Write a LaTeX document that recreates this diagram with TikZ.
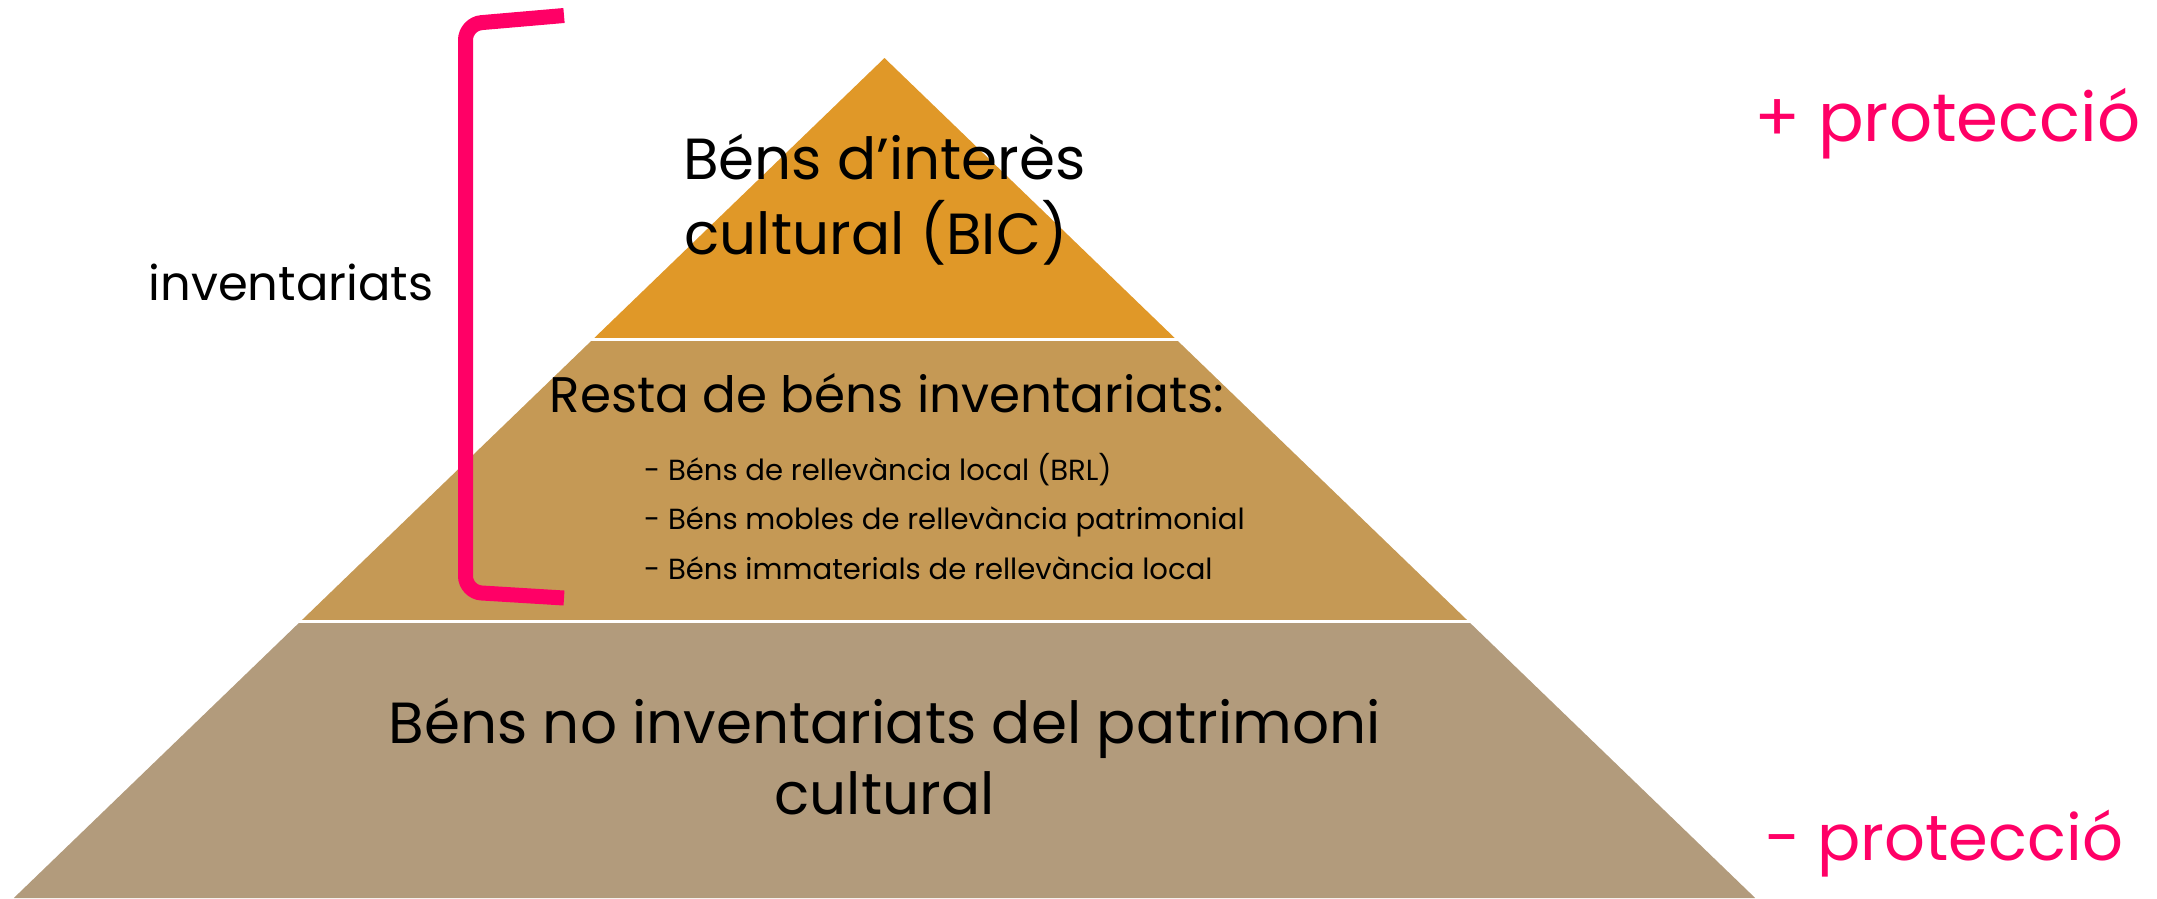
\documentclass[tikz,border=0pt]{standalone}
\usepackage{fontspec}
\setmainfont{Poppins}
\definecolor{tierA}{RGB}{224,152,40}
\definecolor{tierB}{RGB}{197,153,85}
\definecolor{tierC}{RGB}{178,155,124}
\definecolor{pinkc}{RGB}{255,0,102}
\tikzset{
  gapline/.style={draw=white,line width=3pt},
  bracketline/.style={draw=pinkc,line width=15pt,rounded corners=16pt,line cap=butt},
  blacktext/.style={text=black,inner sep=0pt,anchor=base},
  pinktext/.style={text=pinkc,inner sep=0pt,anchor=base west},
}
\begin{document}
\begin{tikzpicture}[x=1pt,y=-1pt]
\useasboundingbox (0,0) rectangle (2157,898);
% pyramid corners
\coordinate (apex) at (884.5,58);
\coordinate (l1) at (592.7,339.5);
\coordinate (r1) at (1176.3,339.5);
\coordinate (l2) at (300.4,621.5);
\coordinate (r2) at (1468.6,621.5);
\coordinate (l3) at (13.8,898);
\coordinate (r3) at (1755.2,898);
\fill[tierA] (apex) -- (r1) -- (l1) -- cycle;
\fill[tierB] (l1) -- (r1) -- (r2) -- (l2) -- cycle;
\fill[tierC] (l2) -- (r2) -- (r3) -- (l3) -- cycle;
\coordinate (g1a) at (560,339.5);
\coordinate (g1b) at (1210,339.5);
\coordinate (g2a) at (270,621.5);
\coordinate (g2b) at (1500,621.5);
\draw[gapline] (g1a) -- (g1b);
\draw[gapline] (g2a) -- (g2b);
% texts in tiers
\node[blacktext,font=\fontsize{58}{75.5}\selectfont] (bic1) at (884.5,179) {Béns d’interès};
\node[blacktext,font=\fontsize{58}{75.5}\selectfont] (bic2) at (876,254.5) {cultural (BIC)};
\node[blacktext,font=\fontsize{50}{60}\selectfont] (resta) at (887,412.7) {Resta de béns inventariats:};
\node[blacktext,anchor=base west,font=\fontsize{29.1}{34}\selectfont] (b1) at (644,480) {- Béns de rellevància local (BRL)};
\node[blacktext,anchor=base west,font=\fontsize{29.1}{34}\selectfont] (b2) at (644,529.6) {- Béns mobles de rellevància patrimonial};
\node[blacktext,anchor=base west,font=\fontsize{29.1}{34}\selectfont] (b3) at (644,579) {- Béns immaterials de rellevància local};
\node[blacktext,font=\fontsize{58}{70}\selectfont] (base1) at (884.5,743) {Béns no inventariats del patrimoni};
\node[blacktext,font=\fontsize{58}{70}\selectfont] (base2) at (884.5,814) {cultural};
% side labels
\node[blacktext,font=\fontsize{48}{56}\selectfont] (inv) at (291,300) {inventariats};
\node[pinktext,font=\fontsize{67.5}{78}\selectfont] (mes) at (1754,141.7) {+ protecció};
\node[pinktext,font=\fontsize{64}{74}\selectfont] (menys) at (1765,860) {- protecció};
% bracket
\coordinate (bt) at (564,15.5);
\coordinate (bc1) at (465.5,24);
\coordinate (bc2) at (465.5,592);
\coordinate (bb) at (564,598);
\draw[bracketline] (bt) -- (bc1) -- (bc2) -- (bb);
\end{tikzpicture}
\end{document}
